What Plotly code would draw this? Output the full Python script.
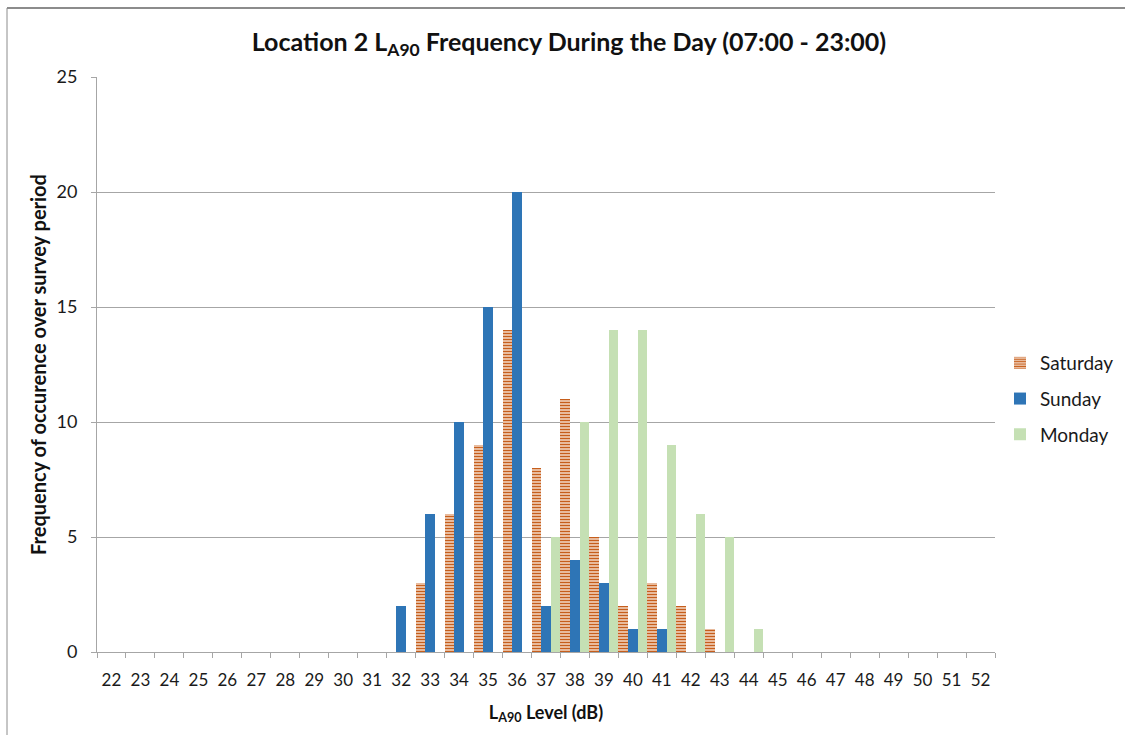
import plotly.graph_objects as go

levels = [str(v) for v in range(22, 53)]
saturday = [0]*11 + [3, 6, 9, 14, 8, 11, 5, 2, 3, 2, 1] + [0]*9
sunday = [0]*10 + [2, 6, 10, 15, 20, 2, 4, 3, 1, 1] + [0]*11
monday = [0]*15 + [5, 10, 14, 14, 9, 6, 5, 1] + [0]*8

FONT = "Lato"
L, R, T, B = 97, 130, 77, 83
W, H = 1125, 735
pw, ph = W - L - R, H - T - B

def px_x(x):
    return (x - L) / pw

def px_y(y):
    return (H - B - y) / ph

fig = go.Figure()
fig.add_trace(go.Bar(
    x=levels, y=saturday, name="Saturday", legendgroup="sat",
    marker=dict(color="#FFF8F2", line=dict(width=0),
                pattern=dict(shape="-", fgcolor="#C65E1C", fgopacity=1,
                             size=3, solidity=0.6, fillmode="overlay")),
))
fig.add_trace(go.Bar(x=levels, y=sunday, name="Sunday", legendgroup="sun",
                     marker=dict(color="#2E75B6", line=dict(width=0))))
fig.add_trace(go.Bar(x=levels, y=monday, name="Monday", legendgroup="mon",
                     marker=dict(color="#C5E0B4", line=dict(width=0))))

fig.update_layout(
    width=W, height=H,
    margin=dict(l=L, r=R, t=T, b=B, autoexpand=False),
    paper_bgcolor="white", plot_bgcolor="white",
    barmode="group", bargap=0, bargroupgap=0,
    font=dict(family=FONT, color="#262626", size=18),
    title=dict(text="Location 2 L<sub>A90</sub> Frequency During the Day (07:00 - 23:00)",
               x=(250 + 888) / 2 / W, xanchor="center", y=1 - 42 / H, yanchor="middle",
               font=dict(family=FONT, size=25, color="#111111", weight="bold")),
    xaxis=dict(type="category", tickson="boundaries", ticks="outside", ticklen=5,
               tickcolor="#A6A6A6", showline=True, linecolor="#A6A6A6", linewidth=1,
               showgrid=False, tickfont=dict(size=17, color="#1a1a1a"), tickangle=0,
               ticklabelstandoff=13,
               title=dict(text="L<sub>A90</sub> Level (dB)", standoff=16,
                          font=dict(size=18, color="#111111", weight="bold"))),
    yaxis=dict(range=[0, 25], dtick=5, ticks="outside", ticklen=5, tickcolor="#A6A6A6",
               showline=True, linecolor="#A6A6A6", linewidth=1,
               showgrid=True, gridcolor="#A6A6A6", gridwidth=1, zeroline=False,
               tickfont=dict(size=18, color="#1a1a1a"), ticklabelstandoff=10,
               title=dict(text="Frequency of occurence over survey period", standoff=4,
                          font=dict(size=20, color="#111111", weight="bold"))),
    legend=dict(x=px_x(1000), xanchor="left", y=px_y(344), yanchor="top",
                font=dict(size=19, color="#1a1a1a"), tracegroupgap=8,
                itemwidth=30, bgcolor="rgba(0,0,0,0)"),
    shapes=[
        dict(type="line", xref="paper", yref="paper", x0=px_x(7), x1=px_x(W + 5),
             y0=px_y(8), y1=px_y(8), line=dict(color="#8C8C8C", width=2)),
        dict(type="line", xref="paper", yref="paper", x0=px_x(7), x1=px_x(7),
             y0=px_y(8), y1=px_y(H + 5), line=dict(color="#8C8C8C", width=1)),
    ],
)

fig.write_html("out.html")
